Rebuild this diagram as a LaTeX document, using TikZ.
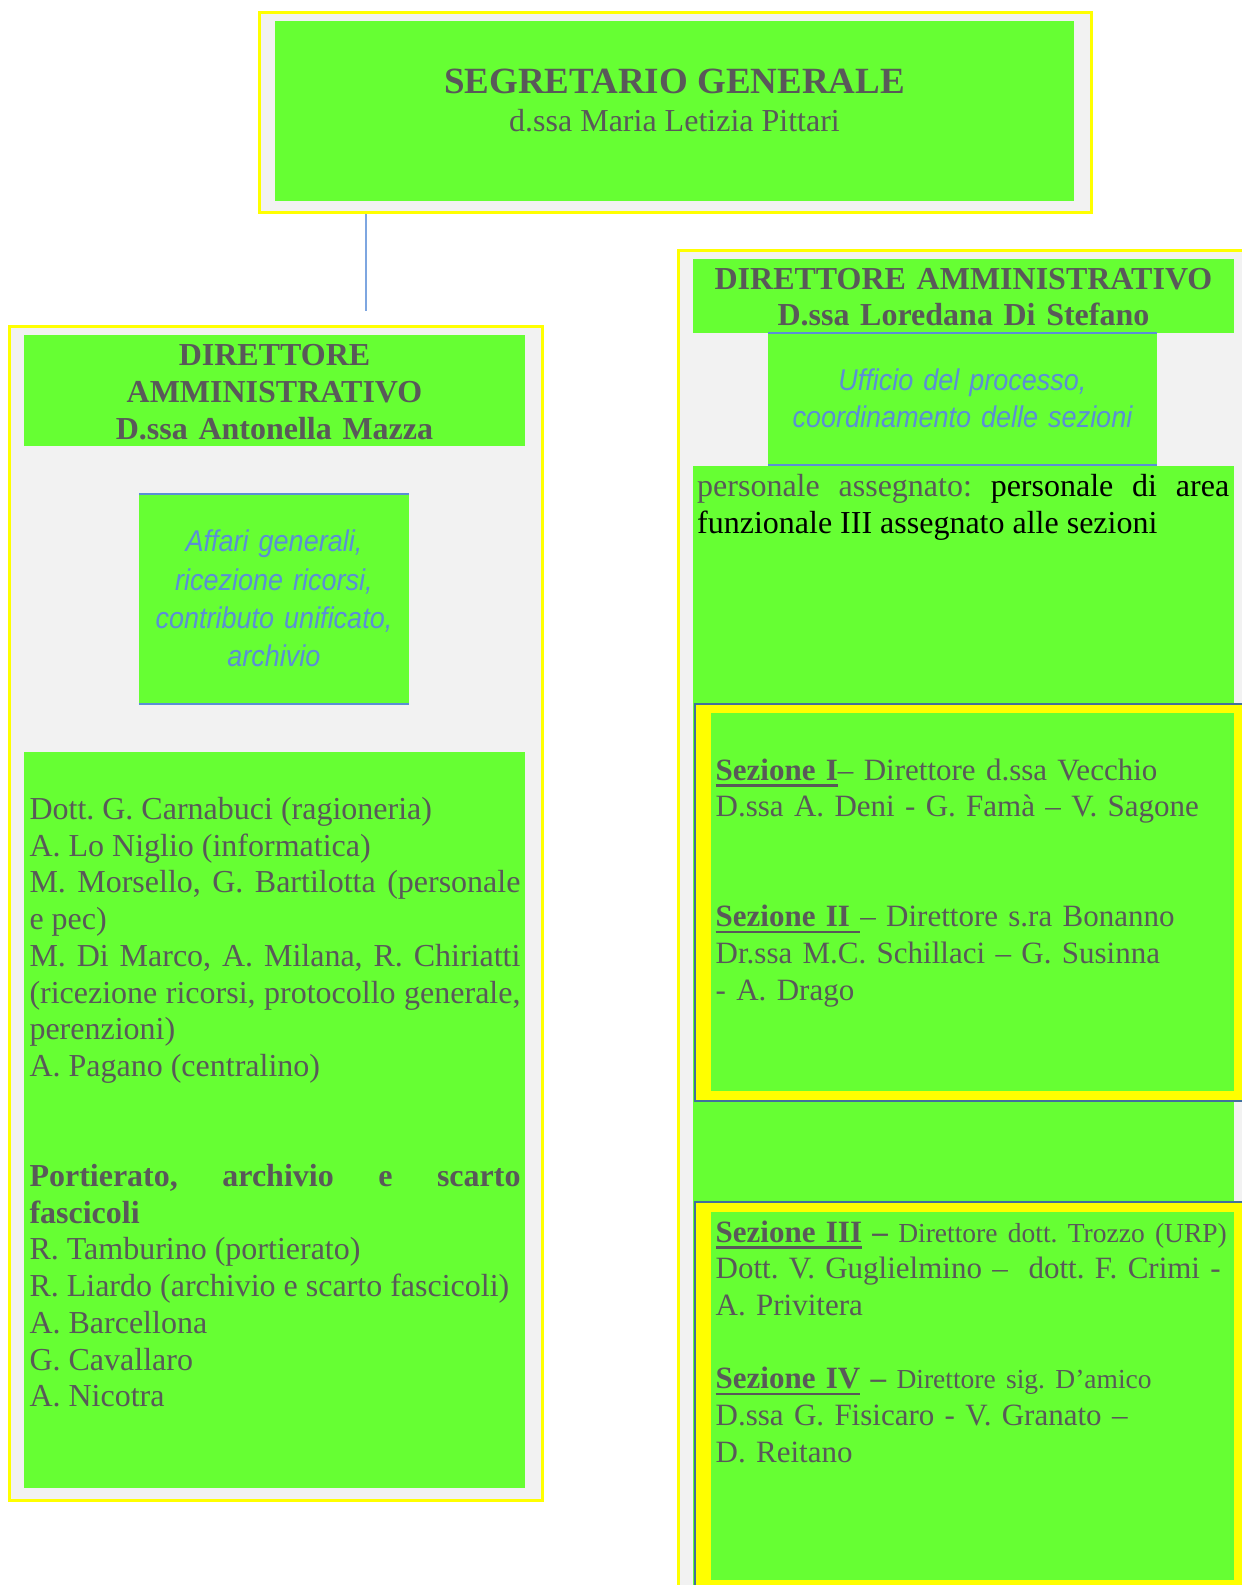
\documentclass[tikz,border=0pt]{standalone}
\usepackage{fontspec}
\setmainfont{Liberation Serif}
\newfontfamily\narrowsans[FakeStretch=0.9]{Liberation Sans}
\definecolor{lgreen}{HTML}{66FF33}
\definecolor{yel}{RGB}{255,255,0}
\definecolor{bggray}{HTML}{F2F2F2}
\definecolor{txtgray}{HTML}{595959}
\definecolor{itblue}{HTML}{5B8ED6}
\definecolor{lineblue}{HTML}{5B8ED6}
\definecolor{connblue}{HTML}{7EA6E0}
\definecolor{bordblue}{HTML}{41719C}
\frenchspacing
\newcommand{\smallsz}{\fontsize{27.5}{36.7}\selectfont}
\newsavebox{\secbox}
\newcommand{\secul}[1]{\leavevmode\sbox{\secbox}{#1}\rlap{\rule[-6.5pt]{\wd\secbox}{2.7pt}}\usebox{\secbox}}
\begin{document}
\begin{tikzpicture}[x=1pt,y=-1pt,
  yframe/.style={draw=yel,line width=3pt,fill=bggray,inner sep=0pt,anchor=north west},
  gbox/.style={fill=lgreen,inner sep=0pt,anchor=north west},
  sezbox/.style={draw=bordblue,line width=2pt,fill=yel,inner sep=0pt,anchor=north west},
  dims/.style 2 args={minimum width=#1pt,minimum height=#2pt},
  txt/.style={text=txtgray,inner sep=0pt,font=\fontsize{32}{36.7}\selectfont},
  seztxt/.style={txt,text width=524pt,align=left,anchor=base west,font=\fontsize{31}{36.7}\selectfont},
  head/.style={txt,align=center,font=\bfseries\fontsize{32}{37}\selectfont},
  ital/.style={text=itblue,inner sep=0pt,align=center,font=\narrowsans\itshape\fontsize{30}{38.4}\selectfont},
  edgeline/.style={draw=lineblue,line width=2pt},
  conn/.style={draw=connblue,line width=2pt}]
\useasboundingbox (0,0) rectangle (1242,1585);
\clip (0,0) rectangle (1242,1585);

\node[yframe,dims={832}{200.5}] (sgframe) at (258.2,10.8) {};
\node[gbox,dims={799}{180}] (sgbox) at (275,21) {};
\node[txt,anchor=base,font=\bfseries\fontsize{37}{40}\selectfont] (sgtitle) at (674.5,93.5) {SEGRETARIO GENERALE};
\node[txt,anchor=base] (sgname) at (674.5,131.5) {d.ssa Maria Letizia Pittari};

\node[yframe,dims={533.7}{1173.7}] (leftframe) at (7.5,324.8) {};
\node[gbox,dims={501}{110.5}] (lhead) at (24,335) {};
\node[head,text width=495pt,anchor=base] (lheadtxt) at (274.5,365) {DIRETTORE\\AMMINISTRATIVO\\D.ssa Antonella Mazza};
\node[gbox,dims={270}{209.5}] (affari) at (139,494) {};
\draw[edgeline] (affari.north west) -- (affari.north east);
\draw[edgeline] (affari.south west) -- (affari.south east);
\node[ital,text width=270pt,anchor=base] (affaritxt) at (274,551.7) {Affari generali,\\ricezione ricorsi,\\contributo unificato,\\archivio};
\node[gbox,dims={501}{735.5}] (staff) at (24,752) {};
\node[txt,text width=491pt,align=justify,anchor=base west] (stafftxt) at (29.3,819.5) {Dott. G. Carnabuci (ragioneria)\\
A. Lo Niglio (informatica)\\
M. Morsello, G. Bartilotta (personale\linebreak e pec)\\
M. Di Marco, A. Milana, R. Chiriatti\linebreak (ricezione ricorsi, protocollo generale,\linebreak perenzioni)\\
A. Pagano (centralino)\\[73.4pt]
\textbf{Portierato, archivio e scarto\linebreak fascicoli}\\
R. Tamburino (portierato)\\
R. Liardo (archivio e scarto fascicoli)\\
A. Barcellona\\
G. Cavallaro\\
A. Nicotra};

\node[yframe,dims={600}{1400}] (rightframe) at (676.5,248.8) {};
\node[gbox,dims={541}{74}] (rhead) at (693,259) {};
\node[head,text width=541pt,anchor=base,font=\bfseries\fontsize{32}{36}\selectfont] (rheadtxt) at (963.5,289) {DIRETTORE AMMINISTRATIVO\\D.ssa Loredana Di Stefano};
\node[gbox,dims={389}{132}] (ufficio) at (768,333) {};
\draw[edgeline] (ufficio.north west) -- (ufficio.north east);
\draw[edgeline] (ufficio.south west) -- (ufficio.south east);
\node[ital,text width=389pt,anchor=base,font=\narrowsans\itshape\fontsize{30}{37.4}\selectfont] (ufficiotxt) at (962.5,390.5) {Ufficio del processo,\\coordinamento delle sezioni};
\node[gbox,dims={541}{1200}] (pers) at (693,466) {};
\node[txt,text width=532pt,align=justify,anchor=base west] (perstxt) at (697,496.5) {personale assegnato: {\color{black}personale di area\linebreak funzionale III assegnato alle sezioni}};

\node[sezbox,dims={600}{397.6}] (sez12) at (694.3,702.7) {};
\node[gbox,dims={523}{378}] (sez12in) at (711,713) {};
\node[seztxt] (sez12txt) at (715.5,780) {\secul{\textbf{Sezione I}}– Direttore d.ssa Vecchio\\
D.ssa A. Deni - G. Famà – V. Sagone\\[73.4pt]
\secul{\textbf{Sezione II} }– Direttore s.ra Bonanno\\
Dr.ssa M.C. Schillaci – G. Susinna\\
- A. Drago};

\node[sezbox,dims={600}{500}] (sez34) at (694.3,1201) {};
\node[gbox,dims={523}{368}] (sez34in) at (711,1212) {};
\node[seztxt] (sez34txt) at (715.5,1242) {\secul{\textbf{Sezione III}} \textbf{–} {\smallsz Direttore dott. Trozzo (URP)}\\
Dott. V. Guglielmino –~ dott. F. Crimi -\\
A. Privitera\\[36.7pt]
\secul{\textbf{Sezione IV}} \textbf{–} {\smallsz Direttore sig. D’amico}\\
D.ssa G. Fisicaro - V. Granato –\\
D. Reitano};

\coordinate (lnk) at (365.7,310.7);
\draw[conn] (sgframe.south -| lnk) -- (lnk);
\end{tikzpicture}
\end{document}
